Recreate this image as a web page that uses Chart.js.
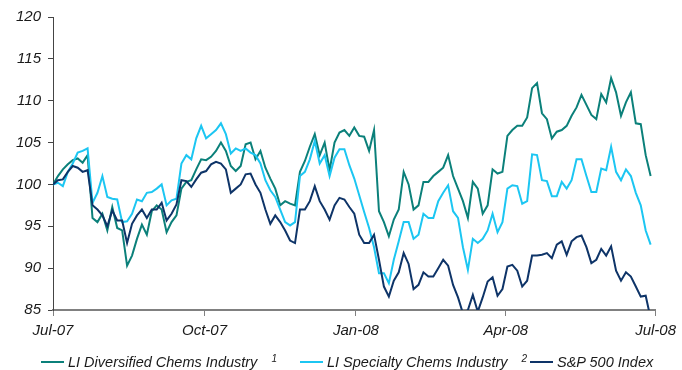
<!DOCTYPE html>
<html lang="en">
<head>
<meta charset="UTF-8">
<title>Chems Industry vs S&amp;P 500</title>
<script src="https://cdn.jsdelivr.net/npm/chart.js"></script>
<style>
  body { margin: 0; background: #fff; }
  #wrap { position: relative; width: 682px; height: 370px; }
  #legend { position: absolute; left: 0; top: 353px; width: 682px; height: 18px;
            font: italic 14.5px "Liberation Sans", Arial, sans-serif; color: #1a1a1a; }
  #legend .item { position: absolute; top: 0; white-space: nowrap; line-height: 18px; }
  #legend .swatch { display: inline-block; width: 23px; height: 2px; margin-right: 4px;
                    vertical-align: middle; position: relative; top: -1px; }
  #legend sup { font-size: 10px; margin-left: 14px; position: relative; top: -5px; vertical-align: baseline; }
</style>
</head>
<body>
<div id="wrap">
  <canvas id="chemChart" width="682" height="370"></canvas>
  <div id="legend"></div>
</div>
<script>
// one sample every 3 calendar days starting 1 Jul 2007
const STEP_DAYS = 3;

// x ticks: days since 1 Jul 2007
const monthTicks = [0, 92, 184, 275, 366];
const monthLabels = ['Jul-07', 'Oct-07', 'Jan-08', 'Apr-08', 'Jul-08'];

const seriesNames = ['LI Diversified Chems Industry', 'LI Specialty Chems Industry', 'S&P 500 Index'];
const seriesNotes = ['1', '2', ''];
const seriesColors = ['#0b807a', '#1cc6f2', '#0e3468'];

// rebased to 100
const diversified = [
  100.0, 101.0, 101.8, 102.4, 102.9, 103.1, 102.6, 103.5, 96.0, 95.5,
  96.5, 94.5, 97.3, 94.8, 94.5, 90.3, 91.5, 93.5, 95.2, 94.0,
  96.8, 97.5, 97.0, 94.3, 95.5, 96.3, 99.5, 100.3, 100.5, 101.8,
  103.0, 102.9, 103.3, 104.0, 105.0, 104.0, 102.2, 101.6, 102.2, 104.8,
  105.0, 103.0, 104.0, 102.0, 100.7, 99.5, 97.5, 98.0, 97.7, 97.5,
  101.5, 102.8, 104.5, 106.0, 103.5, 105.0, 101.7, 105.0, 106.2, 106.5,
  105.8, 106.8, 105.8, 105.7, 104.0, 106.5, 96.8, 95.5, 93.8, 95.8,
  97.0, 101.5, 100.0, 97.0, 97.5, 100.3, 100.3, 101.0, 101.5, 102.0,
  103.5, 101.0, 99.5, 98.0, 96.0, 100.3, 99.5, 96.5, 97.5, 101.8,
  101.3, 101.5, 105.8, 106.5, 107.0, 107.0, 108.0, 111.5, 112.1, 108.5,
  107.8, 105.5, 106.3, 106.5, 107.0, 108.2, 109.2, 110.7, 109.5, 108.3,
  107.8, 110.8, 109.8, 112.7, 111.0, 108.2, 109.8, 111.0, 107.3, 107.2,
  103.5, 101.0
];
const specialty = [
  100.0, 100.2, 99.8, 101.5, 102.5, 103.8, 104.0, 104.3, 97.8, 99.0,
  101.0, 98.5, 98.3, 98.2, 95.5, 95.6, 96.5, 98.2, 98.0, 99.0,
  99.1, 99.5, 100.0, 97.5, 98.1, 98.3, 102.5, 103.5, 103.0, 105.5,
  107.0, 105.5, 106.0, 106.5, 107.3, 106.0, 103.7, 104.3, 104.0, 104.3,
  103.8, 103.5, 102.5, 100.5, 99.3, 98.5, 97.0, 95.5, 95.1, 95.5,
  101.0, 101.5, 103.0, 105.2, 102.5, 103.5, 101.0, 103.2, 104.2, 104.2,
  102.3, 100.7, 98.7, 96.7, 94.8, 92.5, 89.4, 89.4, 88.2, 91.0,
  93.2, 95.5, 95.5, 93.5, 94.0, 96.5, 96.0, 96.0, 98.0, 99.0,
  99.9, 96.8, 96.0, 92.5, 89.8, 93.5, 93.0, 93.5, 94.5, 96.5,
  94.3, 95.5, 99.5, 99.9, 99.8, 97.7, 98.0, 103.6, 103.5, 100.5,
  100.4, 98.6, 98.6, 100.3, 99.5, 100.5, 103.0, 103.0, 101.0, 99.1,
  99.1, 101.9, 101.7, 104.5, 101.5, 100.5, 101.8, 101.0, 99.0, 97.5,
  94.5, 92.8
];
const sp500 = [
  100.0, 100.5, 100.6, 101.5, 102.2, 102.0, 101.5, 101.7, 97.5, 97.0,
  96.3, 95.0, 96.9, 95.7, 95.7, 93.0, 95.3, 96.3, 97.0, 96.0,
  97.0, 97.0, 97.8, 95.7, 96.5, 97.6, 100.5, 100.4, 99.7, 100.6,
  101.4, 101.6, 102.4, 102.7, 102.5, 101.8, 99.0, 99.5, 100.0, 101.2,
  101.3, 100.0, 99.0, 97.0, 95.3, 96.3, 95.5, 94.5, 93.3, 93.0,
  97.0, 97.0, 98.0, 99.8, 98.0, 97.0, 95.8, 97.5, 98.4, 98.2,
  97.3, 96.5, 94.0, 93.0, 93.0, 94.0, 91.0, 87.8, 86.6, 88.5,
  89.5, 91.8, 90.5, 87.5, 88.0, 89.5, 89.0, 89.0, 90.0, 91.0,
  90.3, 88.0, 86.5, 84.6, 85.0, 86.8, 84.8, 86.5, 88.4, 88.9,
  86.7, 87.5, 90.2, 90.4, 89.7, 87.8, 88.5, 91.5, 91.5, 91.6,
  91.8, 91.2, 92.8, 93.2, 91.6, 93.2, 93.7, 93.9, 92.5, 90.6,
  91.0, 92.3, 91.5, 92.6, 89.7, 88.5, 89.5, 89.0, 87.8, 86.6,
  86.7, 84.0
];

const Y_MIN = 85, Y_MAX = 120, Y_STEP = 5;

const tickFont = { family: "'Liberation Sans', Arial, sans-serif", size: 15, style: 'italic' };

function toPoints(values) {
  return values.map((v, i) => ({ x: i * STEP_DAYS, y: v }));
}

const allSeries = [diversified, specialty, sp500];
// S&P drawn on top, then specialty, then diversified
const drawOrder = [2, 1, 0];

const datasets = allSeries.map((vals, i) => ({
  label: seriesNames[i],
  data: toPoints(vals),
  borderColor: seriesColors[i],
  backgroundColor: seriesColors[i],
  borderWidth: 2,
  pointRadius: 0,
  tension: 0,
  order: drawOrder[i]
}));

new Chart(document.getElementById('chemChart'), {
  type: 'line',
  data: { datasets: datasets },
  options: {
    responsive: false,
    animation: false,
    layout: { padding: { top: 17, right: 21, bottom: 30, left: 0 } },
    plugins: { legend: { display: false }, tooltip: { enabled: false } },
    scales: {
      x: {
        type: 'linear',
        min: monthTicks[0],
        max: monthTicks[monthTicks.length - 1],
        afterBuildTicks: axis => { axis.ticks = monthTicks.map(v => ({ value: v })); },
        afterFit: axis => { axis.height = 30; },
        ticks: {
          autoSkip: false,
          maxRotation: 0,
          padding: 6,
          font: tickFont,
          color: '#1a1a1a',
          callback: (v, i) => monthLabels[i]
        },
        grid: { drawOnChartArea: false, drawTicks: true, tickLength: 6, color: '#808080', lineWidth: 1 },
        border: { color: '#808080', width: 2 }
      },
      y: {
        min: Y_MIN,
        max: Y_MAX,
        afterFit: axis => { axis.width = 53; },
        ticks: { stepSize: Y_STEP, padding: 7, font: tickFont, color: '#1a1a1a' },
        grid: { drawOnChartArea: false, drawTicks: true, tickLength: 5, color: '#444' },
        border: { color: '#444', width: 1 }
      }
    }
  }
});

// legend below the axis
const legendPos = [41, 300, 530];
const legend = document.getElementById('legend');
seriesNames.forEach((name, i) => {
  const item = document.createElement('span');
  item.className = 'item';
  item.style.left = legendPos[i] + 'px';
  const sw = document.createElement('span');
  sw.className = 'swatch';
  sw.style.background = seriesColors[i];
  item.appendChild(sw);
  item.appendChild(document.createTextNode(name));
  if (seriesNotes[i]) {
    const sup = document.createElement('sup');
    sup.textContent = seriesNotes[i];
    item.appendChild(sup);
  }
  legend.appendChild(item);
});
</script>
</body>
</html>
